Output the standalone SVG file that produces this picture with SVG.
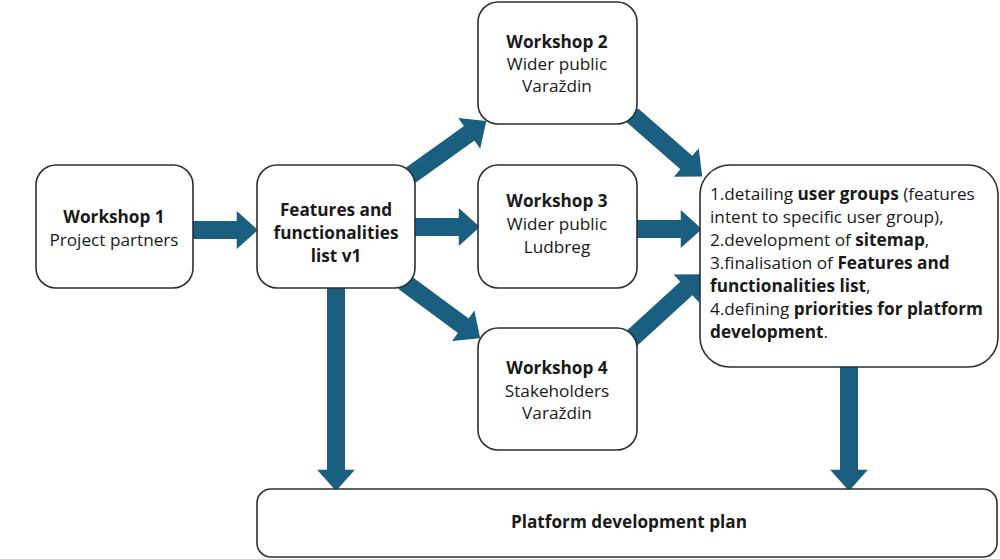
<svg xmlns="http://www.w3.org/2000/svg" width="1000" height="559" viewBox="0 0 1000 559">
<style>
.box{fill:#fff;stroke:#2a2f33;stroke-width:1.6}
text{font-family:"Open Sans","Noto Sans","Liberation Sans",sans-serif;font-size:17.2px;fill:#1a1a1a}
.c{text-anchor:middle}
.b{font-weight:bold}
.arr{stroke:#1b5f80;stroke-width:18;fill:none}
</style>
<defs>
<marker id="ah" markerUnits="userSpaceOnUse" markerWidth="40" markerHeight="40" viewBox="-2 -18 22 36" refX="0" refY="0" orient="auto">
<path d="M-2,-17 L17,0 L-2,17 Z" fill="#1b5f80"/>
</marker>
</defs>
<g id="connectors">
<line class="arr" x1="193" y1="230" x2="239" y2="230" marker-end="url(#ah)"/>
<line class="arr" x1="415" y1="227" x2="461" y2="227" marker-end="url(#ah)"/>
<line class="arr" x1="637" y1="229" x2="683" y2="229" marker-end="url(#ah)"/>
<line class="arr" x1="404" y1="180" x2="471" y2="132" marker-end="url(#ah)"/>
<line class="arr" x1="404" y1="282" x2="465" y2="327" marker-end="url(#ah)"/>
<line class="arr" x1="632" y1="115" x2="688" y2="164" marker-end="url(#ah)"/>
<line class="arr" x1="630" y1="340" x2="688" y2="287" marker-end="url(#ah)"/>
<line class="arr" x1="336" y1="288" x2="336" y2="472" marker-end="url(#ah)"/>
<line class="arr" x1="849" y1="367" x2="849" y2="472" marker-end="url(#ah)"/>
</g>
<g id="ws1">
<rect class="box" x="36" y="165" width="157" height="123" rx="20"/>
<text class="c b" x="114" y="223">Workshop 1</text>
<text class="c" x="114" y="246">Project partners</text>
</g>
<g id="features">
<rect class="box" x="257" y="165" width="158" height="123" rx="20"/>
<text class="c b" x="336" y="216">Features and</text>
<text class="c b" x="336" y="239">functionalities</text>
<text class="c b" x="336" y="262">list v1</text>
</g>
<g id="ws2">
<rect class="box" x="478" y="2" width="159" height="122" rx="20"/>
<text class="c b" x="557" y="48">Workshop 2</text>
<text class="c" x="557" y="70">Wider public</text>
<text class="c" x="557" y="92">Varaždin</text>
</g>
<g id="ws3">
<rect class="box" x="478" y="165" width="159" height="123" rx="20"/>
<text class="c b" x="557" y="207">Workshop 3</text>
<text class="c" x="557" y="230">Wider public</text>
<text class="c" x="557" y="253">Ludbreg</text>
</g>
<g id="ws4">
<rect class="box" x="478" y="328" width="159" height="122" rx="20"/>
<text class="c b" x="557" y="374">Workshop 4</text>
<text class="c" x="557" y="397">Stakeholders</text>
<text class="c" x="557" y="419">Varaždin</text>
</g>
<g id="outcomes">
<rect class="box" x="700" y="165" width="298" height="202" rx="30"/>
<text x="710" y="200">1.detailing <tspan class="b">user groups</tspan> (features</text>
<text x="710" y="223">intent to specific user group),</text>
<text x="710" y="246">2.development of <tspan class="b">sitemap</tspan>,</text>
<text x="710" y="269">3.finalisation of <tspan class="b">Features and</tspan></text>
<text x="710" y="292"><tspan class="b">functionalities list</tspan>,</text>
<text x="710" y="315">4.defining <tspan class="b">priorities for platform</tspan></text>
<text x="710" y="338"><tspan class="b">development</tspan>.</text>
</g>
<g id="plan">
<rect class="box" x="257" y="489" width="740" height="68" rx="14"/>
<text class="c b" x="629" y="528">Platform development plan</text>
</g>
</svg>
